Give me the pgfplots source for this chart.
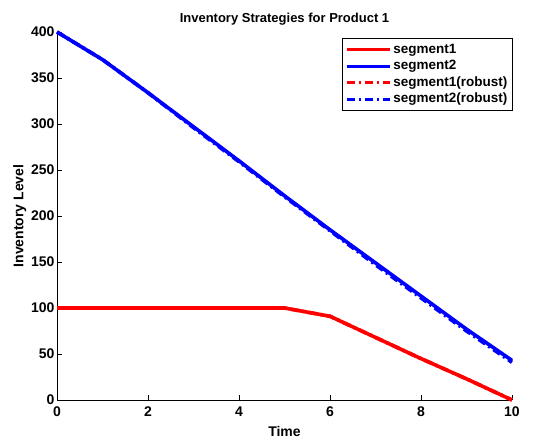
\documentclass[border=0pt]{standalone}
\usepackage{fontspec}
\setmainfont{Liberation Sans}
\usepackage{pgfplots}
\pgfplotsset{compat=1.18}
\begin{document}
\begin{tikzpicture}
\begin{axis}[
  scale only axis,
  width=455pt, height=368pt,
  xmin=0, xmax=10, ymin=0, ymax=400,
  xtick={0,2,...,10}, ytick={0,50,...,400},
  axis x line=bottom, axis y line=left,
  axis line style={-, line width=0.9pt},
  tick style={black, line width=0.7pt},
  major tick length=5pt,
  tick align=inside,
  /pgf/number format/assume math mode=true,
  ticklabel style={font=\fontsize{14}{16}\selectfont\bfseries},
  xticklabel style={yshift=-3pt},
  yticklabel style={xshift=1pt},
  title={Inventory Strategies for Product 1},
  title style={font=\fontsize{13}{15}\selectfont\bfseries, yshift=-3pt},
  xlabel={Time}, ylabel={Inventory Level},
  label style={font=\fontsize{14}{16}\selectfont\bfseries},
  xlabel style={yshift=-3pt},
  ylabel style={yshift=-2pt},
  clip=false,
  legend cell align=left,
  legend style={at={(0.626,0.984)}, anchor=north west, draw=black, line width=0.9pt,
    font=\fontsize{13.5}{16}\selectfont\bfseries, row sep=0pt, inner sep=3pt,
    nodes={inner xsep=2pt, inner ysep=1pt, text height=11pt, text depth=3.5pt}},
  legend image code/.code={\draw[#1, line width=3pt] (0pt,0pt) -- (43pt,0pt);},
]
\addplot[red, line width=3.6pt] coordinates {(0,100) (1,100) (2,100) (3,100) (4,100) (5,100) (6,91) (7,68) (8,45) (9,23) (10,0)};
\addlegendentry{segment1}
\addplot[blue, line width=3.6pt] coordinates {(0,400) (1,370) (2,334) (3,297) (4,260) (5,222) (6,185) (7,149) (8,113) (9,77) (10,43)};
\addlegendentry{segment2}
\addplot[red, line width=3.6pt, dash pattern=on 8pt off 4pt on 2pt off 4pt] coordinates {(0,100) (1,100) (2,100) (3,100) (4,100) (5,100) (6,91) (7,68) (8,45) (9,23) (10,0)};
\addlegendentry{segment1(robust)}
\addplot[blue, line width=3.6pt, dash pattern=on 8pt off 4pt on 2pt off 4pt] coordinates {(0,400) (1,370) (2,334) (3,296) (4,259) (5,221) (6,184) (7,147) (8,111) (9,75) (10,41)};
\addlegendentry{segment2(robust)}
\path (rel axis cs:-0.1253,-0.1141) rectangle (rel axis cs:1.0484,1.087);
\end{axis}
\end{tikzpicture}
\end{document}
